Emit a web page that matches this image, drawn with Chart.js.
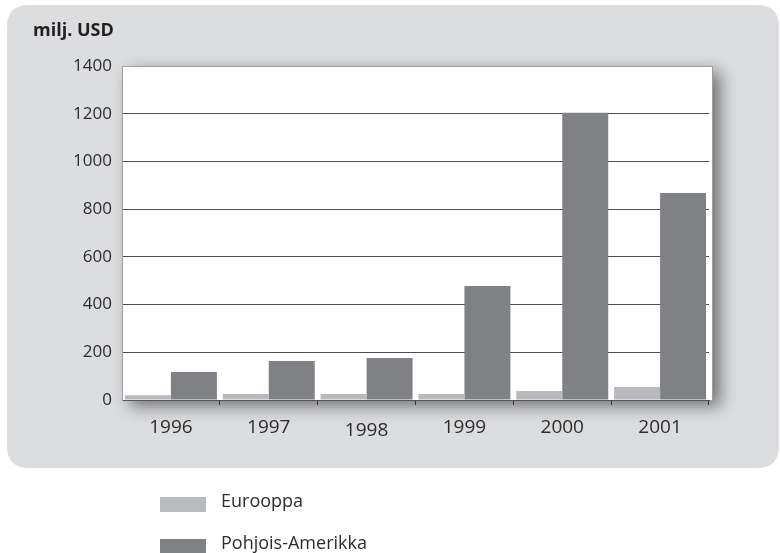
<!DOCTYPE html>
<html>
<head>
<meta charset="utf-8">
<title>milj. USD</title>
<script src="https://cdn.jsdelivr.net/npm/chart.js@4.4.1/dist/chart.umd.min.js"></script>
<style>
  body { margin: 0; background: #fff; }
  #wrap { width: 780px; height: 553px; }
</style>
</head>
<body>
<div id="wrap"><canvas id="chart" width="780" height="553"></canvas></div>
<script>
const years = ['1996', '1997', '1998', '1999', '2000', '2001'];
const europe = [20, 25, 25, 25, 38, 55];
const northAmerica = [117, 163, 176, 478, 1204, 868];
const seriesNames = ['Eurooppa', 'Pohjois-Amerikka'];
const yTicks = [0, 200, 400, 600, 800, 1000, 1200, 1400];
const unitLabel = 'milj. USD';

const FONT = '"Open Sans", Lato, sans-serif';
const TEXT = '#2e2c2d';

function roundRect(ctx, x, y, w, h, r) {
    ctx.beginPath();
    ctx.moveTo(x + r, y);
    ctx.lineTo(x + w - r, y);
    ctx.quadraticCurveTo(x + w, y, x + w, y + r);
    ctx.lineTo(x + w, y + h - r);
    ctx.quadraticCurveTo(x + w, y + h, x + w - r, y + h);
    ctx.lineTo(x + r, y + h);
    ctx.quadraticCurveTo(x, y + h, x, y + h - r);
    ctx.lineTo(x, y + r);
    ctx.quadraticCurveTo(x, y, x + r, y);
    ctx.closePath();
}

// grey panel, shadowed plot box, unit label and the stacked legend underneath
const backdrop = {
    id: 'backdrop',
    beforeDraw(chart) {
        const { ctx, chartArea: a } = chart;
        const w = a.right + 3 - a.left;
        const h = a.bottom - a.top;
        ctx.save();
        ctx.fillStyle = '#dcdddf';
        roundRect(ctx, 7, 5, 772, 463, 22);
        ctx.fill();

        ctx.shadowColor = 'rgba(0,0,0,0.5)';
        ctx.shadowBlur = 16;
        ctx.shadowOffsetX = 8;
        ctx.shadowOffsetY = 6;
        ctx.fillStyle = '#fff';
        ctx.fillRect(a.left, a.top, w, h);
        ctx.restore();

        ctx.save();
        ctx.strokeStyle = '#9d9ea0';
        ctx.lineWidth = 1;
        ctx.strokeRect(a.left + 0.5, a.top + 0.5, w, h);

        ctx.font = 'bold 18px ' + FONT;
        ctx.fillStyle = '#231f20';
        ctx.textBaseline = 'alphabetic';
        ctx.fillText(unitLabel, 33, 36);
        ctx.restore();
    },
    afterDraw(chart) {
        const ctx = chart.ctx;
        ctx.save();
        ctx.font = '18px ' + FONT;
        ctx.textBaseline = 'alphabetic';
        chart.data.datasets.forEach((ds, i) => {
            const y = 497 + i * 42;
            ctx.fillStyle = ds.backgroundColor;
            ctx.fillRect(160, y, 46, 15);
            ctx.fillStyle = TEXT;
            ctx.fillText(ds.label, 221, y + 10);
        });
        ctx.restore();
    }
};

new Chart(document.getElementById('chart'), {
    type: 'bar',
    data: {
        labels: years,
        datasets: [
            {
                label: seriesNames[0],
                data: europe,
                backgroundColor: '#b9babd',
                borderWidth: 0,
                categoryPercentage: 0.94,
                barPercentage: 1.0
            },
            {
                label: seriesNames[1],
                data: northAmerica,
                backgroundColor: '#808184',
                borderWidth: 0,
                categoryPercentage: 0.94,
                barPercentage: 1.0
            }
        ]
    },
    options: {
        responsive: false,
        animation: false,
        layout: { padding: { top: 66, right: 71, bottom: 103, left: 0 } },
        plugins: {
            legend: { display: false },
            tooltip: { enabled: false }
        },
        scales: {
            x: {
                offset: true,
                grid: {
                    offset: true,
                    drawOnChartArea: false,
                    tickLength: 5,
                    color: ctx => (ctx.index === 0 || ctx.index === years.length) ? 'rgba(0,0,0,0)' : '#333'
                },
                border: { color: '#555', width: 1 },
                ticks: {
                    padding: 11,
                    color: TEXT,
                    // the 1998 label sits a little lower in the original
                    font: ctx => ({ family: FONT, size: 19, lineHeight: ctx.index === 2 ? 1.57 : 1.2 })
                },
                afterFit: s => { s.height = 50; }
            },
            y: {
                min: 0,
                max: 1400,
                afterBuildTicks: s => { s.ticks = yTicks.map(v => ({ value: v })); },
                grid: {
                    drawTicks: false,
                    color: ctx => (ctx.tick && ctx.tick.value === 1400) ? '#9d9ea0' : '#4d4d4f'
                },
                border: { color: '#9d9ea0' },
                ticks: {
                    padding: 10,
                    color: TEXT,
                    font: { family: FONT, size: 17 },
                    callback: v => String(v)
                },
                afterFit: s => { s.width = 122; }
            }
        }
    },
    plugins: [backdrop]
});
</script>
</body>
</html>
